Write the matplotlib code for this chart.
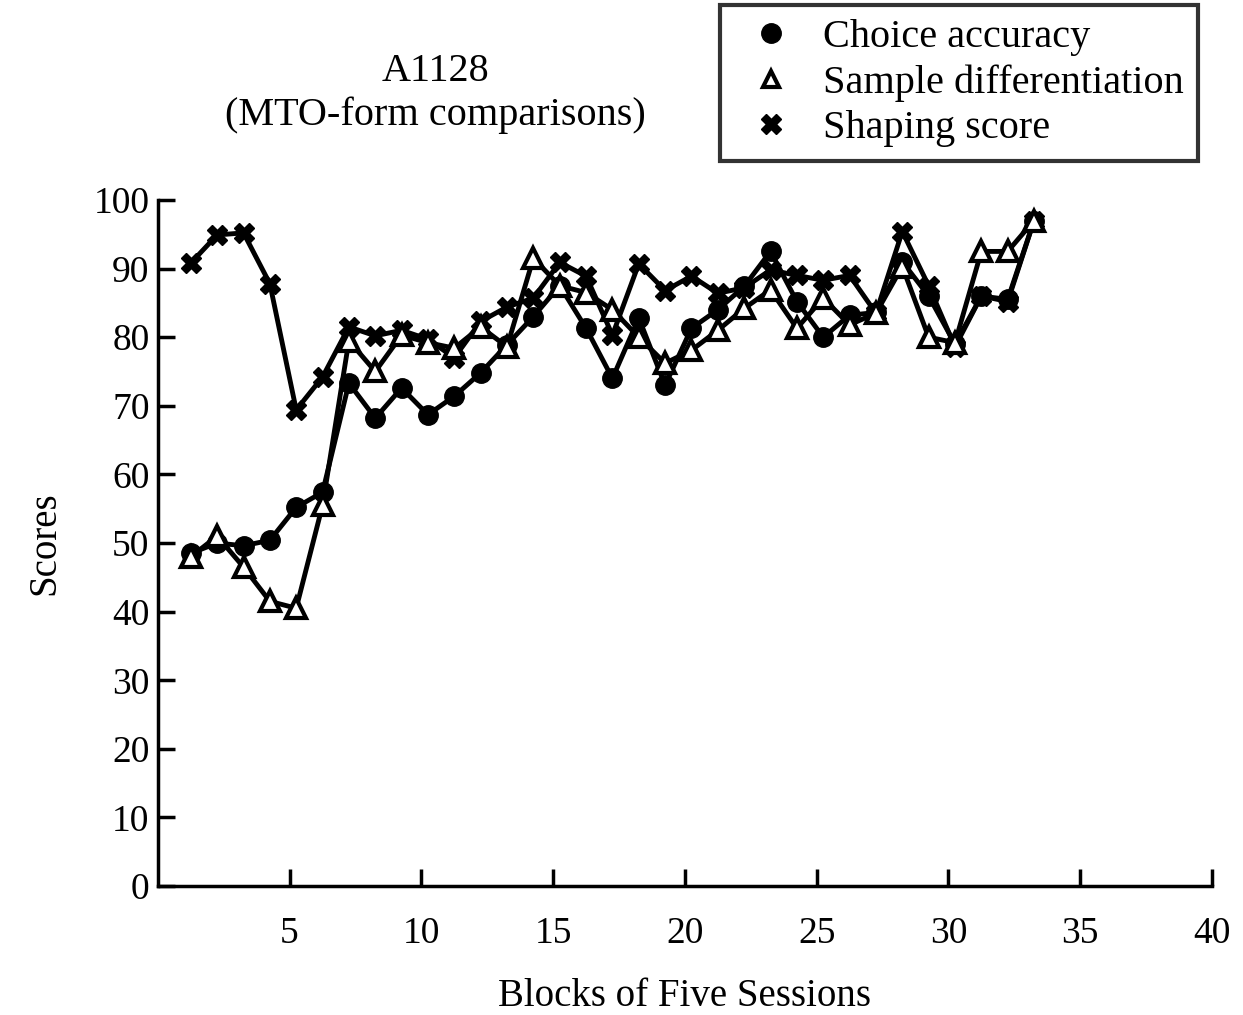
import numpy as np
import matplotlib.pyplot as plt
from matplotlib.lines import Line2D

# A1128 scores per block of five sessions
# (points in the original sit slightly right of the integer ticks)
blocks = np.arange(1, 34) + 0.25

choice_accuracy = [48.5, 50.0, 49.6, 50.4, 55.2, 57.4, 73.3, 68.2, 72.6, 68.7,
                   71.4, 74.8, 78.9, 83.0, 87.5, 81.3, 74.0, 82.8, 73.0, 81.3,
                   84.0, 87.4, 92.5, 85.2, 80.0, 83.2, 83.6, 91.0, 86.0, 79.0,
                   86.0, 85.5, 97.0]
sample_diff = [48.0, 51.0, 46.5, 41.5, 40.5, 55.5, 79.5, 75.0, 80.3, 79.2,
               78.4, 81.5, 78.6, 91.5, 87.5, 86.5, 84.0, 80.0, 76.2, 78.1,
               81.0, 84.2, 86.9, 81.3, 85.7, 81.8, 83.5, 90.3, 80.0, 79.2,
               92.5, 92.5, 97.0]
shaping_score = [90.8, 94.9, 95.2, 87.8, 69.4, 74.2, 81.5, 80.2, 81.0, 79.7,
                 77.0, 82.3, 84.4, 85.7, 90.9, 88.9, 80.3, 90.7, 86.8, 88.9,
                 86.4, 87.2, 89.8, 89.0, 88.3, 89.0, 83.5, 95.4, 87.5, 78.6,
                 86.0, 85.2, 97.0]

xticks = [5, 10, 15, 20, 25, 30, 35, 40]
yticks = [0, 10, 20, 30, 40, 50, 60, 70, 80, 90, 100]

plt.rcParams['font.family'] = ['Liberation Serif', 'DejaVu Serif']

fig = plt.figure(figsize=(12.43, 10.15), dpi=100)
ax = fig.add_axes([0.127, 0.127, 0.848, 0.676])

ax.plot(blocks, choice_accuracy, color='black', lw=3.5, marker='o',
        markersize=14, zorder=3)
ax.plot(blocks, shaping_score, color='black', lw=3.5, marker='X',
        markersize=15, zorder=4)
ax.plot(blocks, sample_diff, color='black', lw=3.5, marker='^',
        markersize=14, markerfacecolor='white', markeredgewidth=3, zorder=5)

ax.set_xlim(0, 40)
ax.set_ylim(0, 100)
ax.set_xticks(xticks)
ax.set_yticks(yticks)
ax.tick_params(axis='both', direction='in', length=12, width=2.5,
               labelsize=27)
ax.tick_params(axis='x', pad=22)
ax.tick_params(axis='y', pad=6)
for side in ['top', 'right']:
    ax.spines[side].set_visible(False)
for side in ['left', 'bottom']:
    ax.spines[side].set_linewidth(2.5)

ax.set_ylabel('Scores', fontsize=28, labelpad=22)
fig.text(0.551, 0.018, 'Blocks of Five Sessions', ha='center', va='center',
         fontsize=28)

fig.text(0.35, 0.908, 'A1128\n(MTO-form comparisons)', ha='center', va='center',
         fontsize=29, linespacing=1.2)

handles = [
    Line2D([], [], color='black', marker='o', ls='none', markersize=14),
    Line2D([], [], color='black', marker='^', ls='none', markersize=12,
           markerfacecolor='white', markeredgewidth=3),
    Line2D([], [], color='black', marker='X', ls='none', markersize=14),
]
labels = ['Choice accuracy', 'Sample differentiation', 'Shaping score']
leg = fig.legend(handles, labels, loc='upper right',
                 bbox_to_anchor=(0.967, 0.999), fontsize=29, frameon=True,
                 fancybox=False, edgecolor='black', handletextpad=0.4,
                 labelspacing=0.2, borderpad=0.35, handlelength=1.8,
                 borderaxespad=0.1)
leg.get_frame().set_linewidth(3)

plt.savefig('out.png', dpi=100)
